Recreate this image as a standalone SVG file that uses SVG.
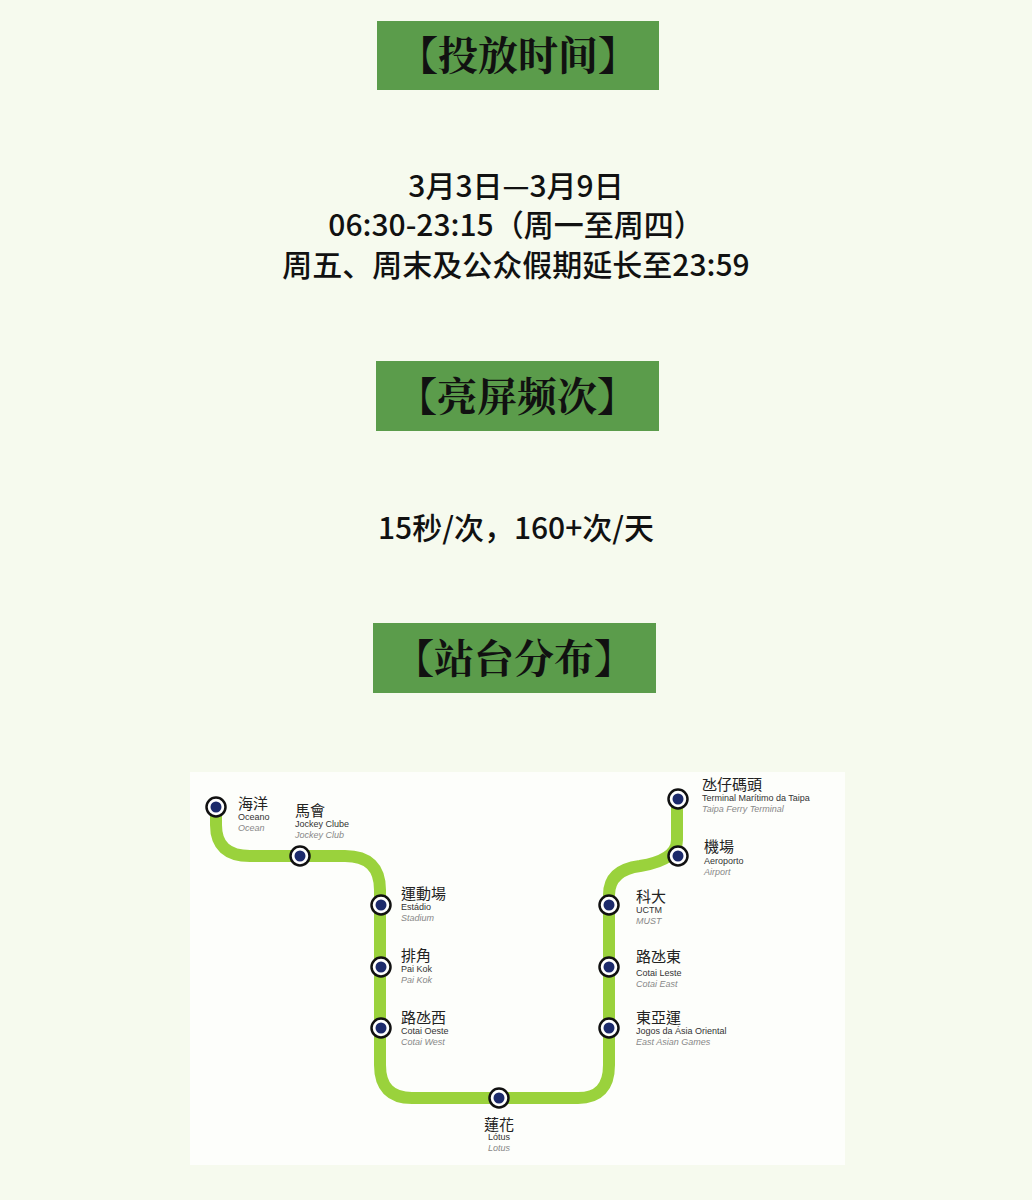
<svg xmlns="http://www.w3.org/2000/svg" width="1032" height="1200" viewBox="0 0 1032 1200">
<style>
.tb{fill:#5b9c4b}
.tt{font-family:"Noto Serif CJK SC","Noto Sans CJK SC",serif;font-weight:bold;font-size:40px;fill:#111;text-anchor:middle}
.body{font-family:"Noto Sans CJK SC",sans-serif;font-weight:500;font-size:30px;fill:#111;text-anchor:middle}
.st{fill:#1c2a6b;stroke:#fff;stroke-width:2.5}
.so{fill:#fff;stroke:#111;stroke-width:2.5}
.cn{font-family:"Noto Sans CJK TC",sans-serif;font-size:15px;fill:#222}
.pt{font-family:"Liberation Sans",sans-serif;font-size:9px;fill:#333}
.en{font-family:"Liberation Sans",sans-serif;font-size:9px;font-style:italic;fill:#888}
</style>
<defs><g id="stn"><circle class="so" r="9.5"/><circle fill="#1c2a6b" r="5.5"/></g></defs>
<rect width="1032" height="1200" fill="#f6faee"/>
<g id="t1"><rect class="tb" x="377" y="21" width="282" height="69"/><text class="tt" x="518" y="70">【投放时间】</text></g>
<g id="b1"><text class="body" x="516" y="197">3月3日—3月9日</text><text class="body" x="516" y="236">06:30-23:15（周一至周四）</text><text class="body" x="516" y="276">周五、周末及公众假期延长至23:59</text></g>
<g id="t2"><rect class="tb" x="376" y="361" width="283" height="70"/><text class="tt" x="517" y="411">【亮屏频次】</text></g>
<g id="b2"><text class="body" x="516" y="539">15秒/次，160+次/天</text></g>
<g id="t3"><rect class="tb" x="373" y="623" width="283" height="70"/><text class="tt" x="514" y="673">【站台分布】</text></g>
<rect x="190" y="772" width="655" height="393" fill="#fdfefb"/>
<g id="connectors"><path d="M216,806 V825 Q216,856 250,856 H345 Q380,856 380,890 V1065 Q380,1098 412,1098 H578 Q609,1098 609,1065 V895 Q609,870 640,866 Q677,860 677,840 V800" fill="none" stroke="#9ad23c" stroke-width="12"/></g>
<g id="s1"><use href="#stn" x="216" y="807"/><text class="cn" x="238" y="809">海洋</text><text class="pt" x="238" y="820">Oceano</text><text class="en" x="238" y="831">Ocean</text></g>
<g id="s2"><use href="#stn" x="300" y="856"/><text class="cn" x="295" y="816">馬會</text><text class="pt" x="295" y="827">Jockey Clube</text><text class="en" x="295" y="838">Jockey Club</text></g>
<g id="s3"><use href="#stn" x="381" y="905"/><text class="cn" x="401" y="899">運動場</text><text class="pt" x="401" y="910">Estádio</text><text class="en" x="401" y="921">Stadium</text></g>
<g id="s4"><use href="#stn" x="381" y="967"/><text class="cn" x="401" y="961">排角</text><text class="pt" x="401" y="972">Pai Kok</text><text class="en" x="401" y="983">Pai Kok</text></g>
<g id="s5"><use href="#stn" x="381" y="1028"/><text class="cn" x="401" y="1023">路氹西</text><text class="pt" x="401" y="1034">Cotai Oeste</text><text class="en" x="401" y="1045">Cotai West</text></g>
<g id="s6"><use href="#stn" x="499" y="1098"/><text class="cn" x="499" y="1130" text-anchor="middle">蓮花</text><text class="pt" x="499" y="1140" text-anchor="middle">Lótus</text><text class="en" x="499" y="1151" text-anchor="middle">Lotus</text></g>
<g id="s7"><use href="#stn" x="609" y="1028"/><text class="cn" x="636" y="1023">東亞運</text><text class="pt" x="636" y="1034">Jogos da Ásia Oriental</text><text class="en" x="636" y="1045">East Asian Games</text></g>
<g id="s8"><use href="#stn" x="609" y="967"/><text class="cn" x="636" y="962">路氹東</text><text class="pt" x="636" y="976">Cotai Leste</text><text class="en" x="636" y="987">Cotai East</text></g>
<g id="s9"><use href="#stn" x="609" y="905"/><text class="cn" x="636" y="902">科大</text><text class="pt" x="636" y="913">UCTM</text><text class="en" x="636" y="924">MUST</text></g>
<g id="s10"><use href="#stn" x="678" y="856"/><text class="cn" x="704" y="852">機場</text><text class="pt" x="704" y="864">Aeroporto</text><text class="en" x="704" y="875">Airport</text></g>
<g id="s11"><use href="#stn" x="678" y="799"/><text class="cn" x="702" y="790">氹仔碼頭</text><text class="pt" x="702" y="801">Terminal Marítimo da Taipa</text><text class="en" x="702" y="812">Taipa Ferry Terminal</text></g>
</svg>
